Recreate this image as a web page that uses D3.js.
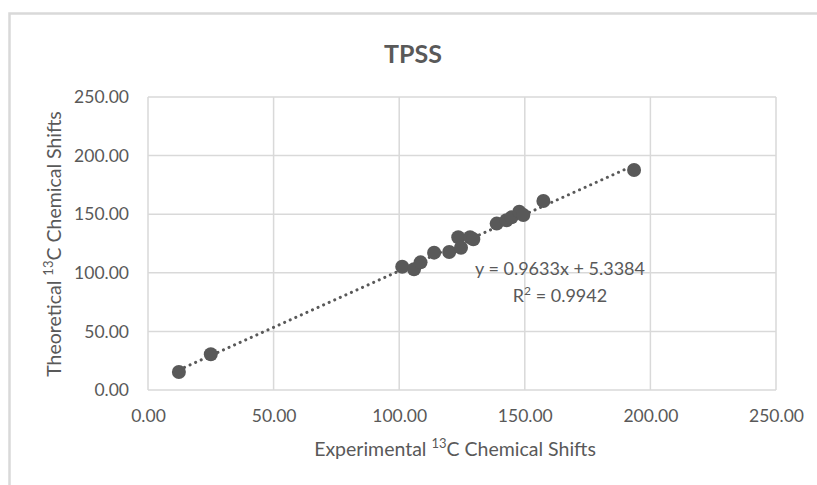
<!DOCTYPE html>
<html>
<head>
<meta charset="utf-8">
<script src="https://cdn.jsdelivr.net/npm/d3@7"></script>
<style>
  body { margin: 0; background: #fff; }
  text { font-family: Lato, "Open Sans", sans-serif; fill: #595959; }
</style>
</head>
<body>
<div id="chart"></div>
<script>
// experimental vs theoretical shifts
var experimental = [12.3, 25.0, 101.2, 105.9, 108.5, 113.9, 119.9, 123.5, 124.6, 128.2, 129.5, 138.8, 142.7, 144.7, 147.8, 149.4, 157.4, 193.5];
var theoretical = [15.4, 30.5, 105.2, 103.0, 108.9, 117.2, 117.7, 130.3, 121.4, 130.3, 128.6, 142.0, 144.8, 147.3, 152.1, 149.3, 161.3, 187.7];
var axisTicks = [0, 50, 100, 150, 200, 250];
var slope = 0.9633, intercept = 5.3384, rSquared = 0.9942;

var svgWidth = 817, svgHeight = 485;
var margin = { top: 97, right: 41, bottom: 95, left: 148 };
var width = svgWidth - margin.left - margin.right;
var height = svgHeight - margin.top - margin.bottom;

var svg = d3.select("#chart").append("svg")
    .attr("width", svgWidth)
    .attr("height", svgHeight);

// chart frame
svg.append("rect")
    .attr("x", 9.5).attr("y", 13.5)
    .attr("width", 830).attr("height", 500)
    .attr("fill", "none")
    .attr("stroke", "#d9d9d9")
    .attr("stroke-width", 2.5);

var chartGroup = svg.append("g")
    .attr("transform", `translate(${margin.left}, ${margin.top})`);

var x = d3.scaleLinear().domain([0, 250]).range([0, width]);
var y = d3.scaleLinear().domain([0, 250]).range([height, 0]);

// gridlines
chartGroup.selectAll(".vgrid")
    .data(axisTicks)
    .enter().append("line")
    .attr("x1", d => x(d)).attr("x2", d => x(d))
    .attr("y1", 0).attr("y2", height)
    .attr("stroke", "#d9d9d9").attr("stroke-width", 1.5);

chartGroup.selectAll(".hgrid")
    .data(axisTicks)
    .enter().append("line")
    .attr("y1", d => y(d)).attr("y2", d => y(d))
    .attr("x1", 0).attr("x2", width)
    .attr("stroke", "#d9d9d9").attr("stroke-width", 1.5);

// axes (labels only, lines come from grid)
var bottomAxis = d3.axisBottom(x).tickValues(axisTicks).tickFormat(d3.format(".2f")).tickSize(0).tickPadding(20);
var leftAxis = d3.axisLeft(y).tickValues(axisTicks).tickFormat(d3.format(".2f")).tickSize(0).tickPadding(19);

var xAxis = chartGroup.append("g")
    .attr("transform", `translate(0, ${height})`)
    .call(bottomAxis);
var yAxis = chartGroup.append("g").call(leftAxis);

[xAxis, yAxis].forEach(function(a) {
    a.select(".domain").remove();
    a.selectAll("text").style("font-size", "17.5px").style("font-family", "Lato, sans-serif").attr("fill", "#595959");
});

// trendline
var xMin = d3.min(experimental), xMax = d3.max(experimental);
chartGroup.append("line")
    .attr("x1", x(xMin)).attr("y1", y(slope * xMin + intercept))
    .attr("x2", x(xMax)).attr("y2", y(slope * xMax + intercept))
    .attr("stroke", "#595959")
    .attr("stroke-width", 3)
    .attr("stroke-linecap", "round")
    .attr("stroke-dasharray", "0.1,6");

// points
var points = experimental.map((d, i) => ({ x: d, y: theoretical[i] }));
chartGroup.selectAll("circle")
    .data(points)
    .enter().append("circle")
    .attr("cx", d => x(d.x))
    .attr("cy", d => y(d.y))
    .attr("r", 7)
    .attr("fill", "#595959");

// equation
chartGroup.append("text")
    .attr("x", 412).attr("y", 178)
    .attr("text-anchor", "middle")
    .style("font-size", "18px")
    .text(`y = ${slope}x + ${intercept}`);
var r2 = chartGroup.append("text")
    .attr("x", 412).attr("y", 205)
    .attr("text-anchor", "middle")
    .style("font-size", "18px");
r2.append("tspan").text("R");
r2.append("tspan").attr("dy", -7).style("font-size", "12px").text("2");
r2.append("tspan").attr("dy", 7).text(` = ${rSquared}`);

// title
svg.append("text")
    .attr("x", 413).attr("y", 63)
    .attr("text-anchor", "middle")
    .style("font-size", "25px")
    .style("font-weight", "bold")
    .text("TPSS");

// x label
var xl = svg.append("text")
    .attr("x", 455).attr("y", 456)
    .attr("text-anchor", "middle")
    .style("font-size", "19.5px");
xl.append("tspan").text("Experimental ");
xl.append("tspan").attr("dy", -8).style("font-size", "13px").text("13");
xl.append("tspan").attr("dy", 8).text("C Chemical Shifts");

// y label
var yl = svg.append("text")
    .attr("transform", "translate(61, 244) rotate(-90)")
    .attr("text-anchor", "middle")
    .style("font-size", "19.5px");
yl.append("tspan").text("Theoretical ");
yl.append("tspan").attr("dy", -8).style("font-size", "13px").text("13");
yl.append("tspan").attr("dy", 8).text("C Chemical Shifts");
</script>
</body>
</html>
